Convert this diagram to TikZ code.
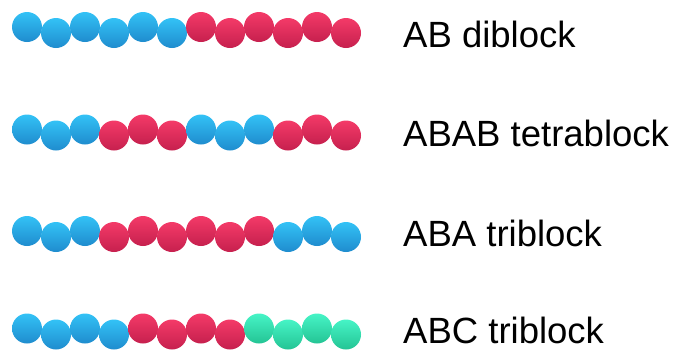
\documentclass[tikz,border=0pt]{standalone}
\usepackage{fontspec}
\setmainfont{Liberation Sans}

\definecolor{azulA}{HTML}{33C2F6}
\definecolor{azulB}{HTML}{1F8CCE}
\definecolor{rojoA}{HTML}{F43A68}
\definecolor{rojoB}{HTML}{C6204E}
\definecolor{verdeA}{HTML}{46F4C6}
\definecolor{verdeB}{HTML}{24C494}

\tikzset{
	mono/.style={circle, minimum size=30pt, inner sep=0pt, draw=none},
	monoA/.style={mono, top color=azulA, bottom color=azulB},
	monoB/.style={mono, top color=rojoA, bottom color=rojoB},
	monoC/.style={mono, top color=verdeA, bottom color=verdeB},
	etiqueta/.style={anchor=base west, inner sep=0pt, font=\fontsize{36.5}{40}\selectfont}
}

\begin{document}
\begin{tikzpicture}[x=1pt, y=-1pt]
\useasboundingbox (0,0) rectangle (676,349);

% Dibloque AB
	\foreach \m [count=\i] in {A,A,A,A,A,A,B,B,B,B,B,B}
		\node[mono\m] (ab-\i) at ({27+29*(\i-1)}, {27+6*mod(\i+1,2)}) {};
	\node[etiqueta] (ab) at (403,47) {AB diblock};

% Tetrabloque ABAB
	\foreach \m [count=\i] in {A,A,A,B,B,B,A,A,A,B,B,B}
		\node[mono\m] (abab-\i) at ({27+29*(\i-1)}, {129.5+6*mod(\i+1,2)}) {};
	\node[etiqueta] (abab) at (403,146) {ABAB tetrablock};

% Tribloque ABA
	\foreach \m [count=\i] in {A,A,A,B,B,B,B,B,B,A,A,A}
		\node[mono\m] (aba-\i) at ({27+29*(\i-1)}, {231+6*mod(\i+1,2)}) {};
	\node[etiqueta] (aba) at (403,246) {ABA triblock};

% Tribloque ABC
	\foreach \m [count=\i] in {A,A,A,A,B,B,B,B,C,C,C,C}
		\node[mono\m] (abc-\i) at ({27+29*(\i-1)}, {328.5+6*mod(\i+1,2)}) {};
	\node[etiqueta] (abc) at (403,343) {ABC triblock};
\end{tikzpicture}
\end{document}
